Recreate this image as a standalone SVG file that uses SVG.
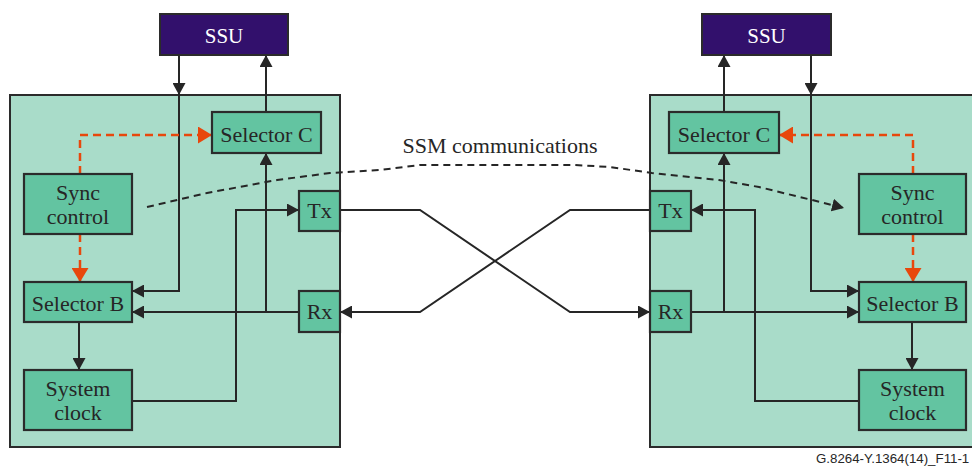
<svg xmlns="http://www.w3.org/2000/svg" width="972" height="467" viewBox="0 0 972 467">
<style>
.outer{fill:#a9dcc9;stroke:#2b2b2b;stroke-width:2}
.blk{fill:#63c4a1;stroke:#2b2b2b;stroke-width:2.2}
.ssu{fill:#32106c;stroke:#2b2b2b;stroke-width:2}
.t{font-family:"Liberation Serif","Times New Roman",serif;font-size:22px;fill:#262626;text-anchor:middle}
.tw{font-family:"Liberation Serif","Times New Roman",serif;font-size:21px;fill:#ffffff;text-anchor:middle}
.c{fill:none;stroke:#262626;stroke-width:2}
.o{fill:none;stroke:#e8470c;stroke-width:2.5;stroke-dasharray:8 5}
.d{fill:none;stroke:#262626;stroke-width:2;stroke-dasharray:7 5}
.f{font-family:"Liberation Sans",Arial,sans-serif;font-size:13.3px;fill:#262626}
</style>
<defs>
<marker id="ab" markerUnits="userSpaceOnUse" markerWidth="12" markerHeight="13" refX="12" refY="6.5" orient="auto"><path d="M0,0 L12,6.5 L0,13 z" fill="#262626"/></marker>
<marker id="ao" markerUnits="userSpaceOnUse" markerWidth="14" markerHeight="17" refX="14" refY="8.5" orient="auto"><path d="M0,0 L14,8.5 L0,17 z" fill="#e8470c"/></marker>
</defs>

<g id="equipment-left"><rect class="outer" x="10" y="95" width="330" height="352"/></g>
<g id="equipment-right"><rect class="outer" x="650" y="95" width="340" height="352"/></g>

<g id="connectors">
<!-- left -->
<path class="c" d="M179,55 V95" marker-end="url(#ab)"/>
<path class="c" d="M179,95 V291 H132" marker-end="url(#ab)"/>
<path class="c" d="M266,112 V55" marker-end="url(#ab)"/>
<path class="c" d="M299,312 H132" marker-end="url(#ab)"/>
<path class="c" d="M266,312 V153" marker-end="url(#ab)"/>
<path class="c" d="M132,401 H236 V210 H299" marker-end="url(#ab)"/>
<path class="c" d="M79,322 V370" marker-end="url(#ab)"/>
<path class="o" d="M80,174 V135 H212" marker-end="url(#ao)"/>
<path class="o" d="M80,234 V282" marker-end="url(#ao)"/>
<!-- right -->
<path class="c" d="M811,55 V95" marker-end="url(#ab)"/>
<path class="c" d="M811,95 V291 H859" marker-end="url(#ab)"/>
<path class="c" d="M724,112 V55" marker-end="url(#ab)"/>
<path class="c" d="M691,312 H859" marker-end="url(#ab)"/>
<path class="c" d="M724,312 V153" marker-end="url(#ab)"/>
<path class="c" d="M859,401 H755 V210 H691" marker-end="url(#ab)"/>
<path class="c" d="M912,322 V370" marker-end="url(#ab)"/>
<path class="o" d="M913,174 V135 H779" marker-end="url(#ao)"/>
<path class="o" d="M913,234 V282" marker-end="url(#ao)"/>
<!-- crossing links -->
<path class="c" d="M340,210 H420 L570,312 H650" marker-end="url(#ab)"/>
<path class="c" d="M650,210 H570 L420,312 H340" marker-end="url(#ab)"/>
<!-- SSM communications -->
<path class="d" d="M147,207 L207,193 L277,180 L330,173 L380,170 L420,165 L575,165 L610,167 L652,173 L719,180 L759,187 L812,200 L844,208" marker-end="url(#ab)"/>
</g>

<g id="ssu-left"><rect class="ssu" x="160" y="14" width="128" height="41"/><text class="tw" x="224" y="43">SSU</text></g>
<g id="selc-left"><rect class="blk" x="212" y="112" width="109" height="41"/><text class="t" x="266.5" y="142">Selector C</text></g>
<g id="sync-left"><rect class="blk" x="24" y="174" width="108" height="60"/><text class="t" x="78" y="200">Sync</text><text class="t" x="78" y="224">control</text></g>
<g id="selb-left"><rect class="blk" x="24" y="282" width="108" height="40"/><text class="t" x="78" y="311">Selector B</text></g>
<g id="clk-left"><rect class="blk" x="24" y="370" width="108" height="60"/><text class="t" x="78" y="396">System</text><text class="t" x="78" y="420">clock</text></g>
<g id="tx-left"><rect class="blk" x="299" y="191" width="41" height="40"/><text class="t" x="319.5" y="218">Tx</text></g>
<g id="rx-left"><rect class="blk" x="299" y="291" width="41" height="41"/><text class="t" x="319.5" y="319">Rx</text></g>

<g id="ssu-right"><rect class="ssu" x="702" y="14" width="129" height="41"/><text class="tw" x="766.5" y="43">SSU</text></g>
<g id="selc-right"><rect class="blk" x="669" y="112" width="110" height="41"/><text class="t" x="724" y="142">Selector C</text></g>
<g id="sync-right"><rect class="blk" x="859" y="174" width="107" height="60"/><text class="t" x="912.5" y="200">Sync</text><text class="t" x="912.5" y="224">control</text></g>
<g id="selb-right"><rect class="blk" x="859" y="282" width="107" height="40"/><text class="t" x="912.5" y="311">Selector B</text></g>
<g id="clk-right"><rect class="blk" x="859" y="370" width="107" height="60"/><text class="t" x="912.5" y="396">System</text><text class="t" x="912.5" y="420">clock</text></g>
<g id="tx-right"><rect class="blk" x="650" y="191" width="41" height="40"/><text class="t" x="670.5" y="218">Tx</text></g>
<g id="rx-right"><rect class="blk" x="650" y="291" width="41" height="41"/><text class="t" x="670.5" y="319">Rx</text></g>

<g id="label-ssm"><text class="t" x="500" y="153">SSM communications</text></g>
<g id="footer"><text class="f" x="816" y="463">G.8264-Y.1364(14)_F11-1</text></g>
</svg>
